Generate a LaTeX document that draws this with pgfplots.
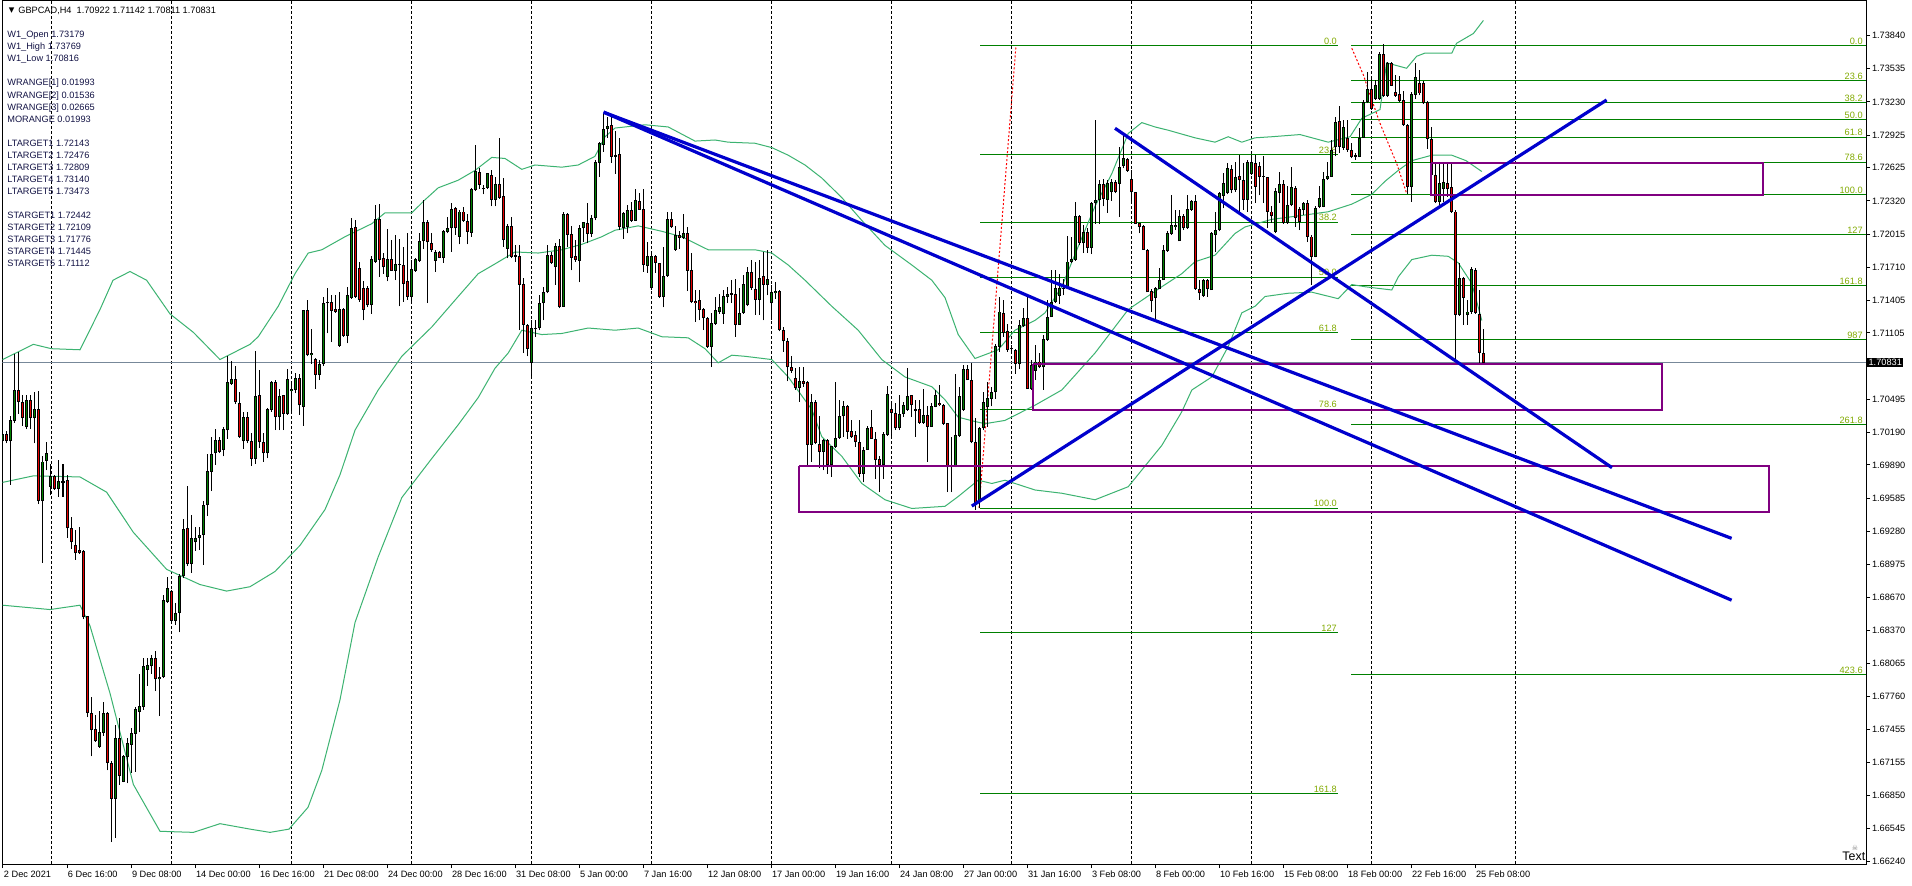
\documentclass[border=0pt]{standalone}
\usepackage{pgfplots}
\pgfplotsset{compat=1.18}
\usepackage{pgfplotstable}
\usepackage{fontspec}
\setmainfont{Liberation Sans}
\newfontfamily\dejavu{DejaVu Sans}
\definecolor{cgreen}{RGB}{0,128,0}
\definecolor{cred}{RGB}{230,0,0}
\definecolor{bband}{RGB}{60,179,113}
\definecolor{fibg}{RGB}{0,128,0}
\definecolor{fibt}{RGB}{130,170,0}
\definecolor{tline}{RGB}{0,0,205}
\definecolor{rectp}{RGB}{128,0,128}
\definecolor{bidg}{RGB}{119,136,153}
\definecolor{infot}{RGB}{20,20,70}
\newcommand\mt{\fontsize{4.6pt}{5.5pt}\selectfont}
\pgfplotstableread{
i O H L C
0 1.7011 1.7028 1.6994 1.7017
1 1.7017 1.7020 1.7009 1.7011
2 1.7011 1.7034 1.6971 1.7030
3 1.7030 1.7091 1.7028 1.7058
4 1.7058 1.7093 1.7036 1.7047
5 1.7047 1.7053 1.7025 1.7032
6 1.7024 1.7053 1.7022 1.7049
7 1.7049 1.7053 1.7022 1.7032
8 1.7032 1.7056 1.7009 1.7040
9 1.7040 1.7057 1.6953 1.6956
10 1.6956 1.6997 1.6899 1.6992
11 1.6993 1.7010 1.6984 1.7000
12 1.6969 1.6990 1.6961 1.6979
13 1.6979 1.6980 1.6966 1.6967
14 1.6967 1.6994 1.6960 1.6974
15 1.6974 1.6990 1.6960 1.6973
16 1.6975 1.6980 1.6922 1.6931
17 1.6931 1.6941 1.6912 1.6918
18 1.6915 1.6929 1.6902 1.6908
19 1.6911 1.6932 1.6907 1.6908
20 1.6910 1.6911 1.6847 1.6849
21 1.6850 1.6850 1.6757 1.6761
22 1.6761 1.6776 1.6721 1.6745
23 1.6746 1.6759 1.6734 1.6735
24 1.6730 1.6763 1.6729 1.6743
25 1.6743 1.6771 1.6740 1.6761
26 1.6761 1.6762 1.6708 1.6715
27 1.6715 1.6717 1.6642 1.6682
28 1.6682 1.6750 1.6646 1.6738
29 1.6738 1.6756 1.6695 1.6703
30 1.6698 1.6722 1.6697 1.6721
31 1.6721 1.6738 1.6696 1.6733
32 1.6732 1.6747 1.6706 1.6742
33 1.6742 1.6766 1.6707 1.6764
34 1.6762 1.6797 1.6743 1.6767
35 1.6767 1.6811 1.6764 1.6804
36 1.6801 1.6811 1.6786 1.6805
37 1.6804 1.6814 1.6797 1.6811
38 1.6811 1.6818 1.6781 1.6792
39 1.6792 1.6803 1.6758 1.6794
40 1.6794 1.6869 1.6793 1.6865
41 1.6863 1.6886 1.6862 1.6876
42 1.6873 1.6874 1.6845 1.6846
43 1.6846 1.6862 1.6842 1.6853
44 1.6853 1.6889 1.6835 1.6887
45 1.6887 1.6939 1.6885 1.6930
46 1.6931 1.6970 1.6896 1.6898
47 1.6898 1.6943 1.6890 1.6922
48 1.6918 1.6932 1.6910 1.6922
49 1.6922 1.6932 1.6911 1.6924
50 1.6925 1.6956 1.6897 1.6952
51 1.6952 1.6999 1.6942 1.6983
52 1.6983 1.7015 1.6965 1.6999
53 1.7000 1.7022 1.6989 1.7012
54 1.7012 1.7015 1.7000 1.7001
55 1.7003 1.7024 1.6997 1.7022
56 1.7021 1.7089 1.7013 1.7065
57 1.7064 1.7085 1.7063 1.7068
58 1.7068 1.7080 1.7045 1.7047
59 1.7046 1.7056 1.7014 1.7015
60 1.7011 1.7038 1.7004 1.7033
61 1.7033 1.7038 1.7009 1.7011
62 1.7011 1.7018 1.6988 1.6995
63 1.6995 1.7094 1.6990 1.7052
64 1.7053 1.7076 1.7005 1.7010
65 1.7010 1.7018 1.6992 1.7000
66 1.7000 1.7041 1.6995 1.7040
67 1.7040 1.7066 1.7038 1.7065
68 1.7065 1.7067 1.7021 1.7033
69 1.7033 1.7059 1.7021 1.7052
70 1.7053 1.7053 1.7021 1.7036
71 1.7036 1.7077 1.7035 1.7068
72 1.7057 1.7065 1.7038 1.7059
73 1.7058 1.7074 1.7055 1.7069
74 1.7069 1.7073 1.7035 1.7044
75 1.7043 1.7132 1.7025 1.7131
76 1.7131 1.7141 1.7089 1.7090
77 1.7090 1.7114 1.7082 1.7092
78 1.7086 1.7087 1.7059 1.7072
79 1.7072 1.7086 1.7067 1.7082
80 1.7082 1.7144 1.7080 1.7138
81 1.7138 1.7152 1.7110 1.7139
82 1.7139 1.7145 1.7102 1.7131
83 1.7132 1.7145 1.7129 1.7130
84 1.7099 1.7148 1.7098 1.7132
85 1.7132 1.7133 1.7107 1.7108
86 1.7108 1.7153 1.7101 1.7145
87 1.7143 1.7216 1.7142 1.7207
88 1.7208 1.7214 1.7143 1.7144
89 1.7170 1.7176 1.7139 1.7141
90 1.7152 1.7158 1.7122 1.7132
91 1.7152 1.7154 1.7134 1.7136
92 1.7136 1.7181 1.7128 1.7178
93 1.7176 1.7228 1.7175 1.7215
94 1.7215 1.7229 1.7162 1.7178
95 1.7179 1.7184 1.7165 1.7171
96 1.7162 1.7206 1.7158 1.7178
97 1.7178 1.7196 1.7168 1.7168
98 1.7168 1.7201 1.7159 1.7174
99 1.7174 1.7197 1.7135 1.7173
100 1.7173 1.7190 1.7139 1.7156
101 1.7158 1.7202 1.7141 1.7144
102 1.7144 1.7178 1.7137 1.7169
103 1.7168 1.7179 1.7167 1.7178
104 1.7177 1.7202 1.7176 1.7195
105 1.7195 1.7233 1.7188 1.7212
106 1.7212 1.7214 1.7138 1.7194
107 1.7193 1.7202 1.7185 1.7187
108 1.7177 1.7187 1.7167 1.7185
109 1.7185 1.7186 1.7179 1.7180
110 1.7180 1.7205 1.7175 1.7204
111 1.7204 1.7217 1.7202 1.7207
112 1.7207 1.7230 1.7185 1.7224
113 1.7225 1.7226 1.7201 1.7207
114 1.7199 1.7224 1.7192 1.7222
115 1.7222 1.7226 1.7213 1.7214
116 1.7213 1.7220 1.7192 1.7204
117 1.7203 1.7244 1.7199 1.7243
118 1.7242 1.7283 1.7241 1.7259
119 1.7258 1.7262 1.7243 1.7247
120 1.7244 1.7247 1.7238 1.7243
121 1.7244 1.7258 1.7243 1.7257
122 1.7256 1.7260 1.7227 1.7233
123 1.7233 1.7254 1.7227 1.7247
124 1.7247 1.7290 1.7234 1.7235
125 1.7236 1.7253 1.7190 1.7196
126 1.7188 1.7211 1.7179 1.7209
127 1.7209 1.7217 1.7179 1.7181
128 1.7181 1.7191 1.7176 1.7181
129 1.7181 1.7191 1.7113 1.7155
130 1.7155 1.7161 1.7092 1.7118
131 1.7118 1.7119 1.7089 1.7096
132 1.7083 1.7122 1.7071 1.7115
133 1.7114 1.7122 1.7107 1.7115
134 1.7115 1.7145 1.7113 1.7138
135 1.7138 1.7153 1.7122 1.7148
136 1.7148 1.7191 1.7147 1.7182
137 1.7182 1.7185 1.7174 1.7175
138 1.7171 1.7193 1.7155 1.7190
139 1.7190 1.7197 1.7133 1.7135
140 1.7135 1.7222 1.7135 1.7220
141 1.7220 1.7221 1.7190 1.7201
142 1.7201 1.7209 1.7168 1.7180
143 1.7181 1.7196 1.7176 1.7178
144 1.7177 1.7210 1.7157 1.7207
145 1.7207 1.7213 1.7194 1.7212
146 1.7211 1.7230 1.7193 1.7202
147 1.7202 1.7219 1.7199 1.7216
148 1.7216 1.7270 1.7214 1.7268
149 1.7267 1.7286 1.7254 1.7285
150 1.7284 1.7313 1.7277 1.7298
151 1.7298 1.7309 1.7290 1.7301
152 1.7302 1.7310 1.7267 1.7273
153 1.7273 1.7296 1.7257 1.7274
154 1.7275 1.7290 1.7205 1.7208
155 1.7207 1.7222 1.7197 1.7221
156 1.7208 1.7228 1.7202 1.7223
157 1.7223 1.7231 1.7213 1.7214
158 1.7214 1.7243 1.7214 1.7233
159 1.7232 1.7239 1.7224 1.7224
160 1.7224 1.7243 1.7167 1.7173
161 1.7172 1.7194 1.7166 1.7181
162 1.7152 1.7184 1.7150 1.7181
163 1.7181 1.7182 1.7166 1.7175
164 1.7175 1.7175 1.7143 1.7144
165 1.7144 1.7190 1.7134 1.7163
166 1.7163 1.7222 1.7162 1.7215
167 1.7215 1.7222 1.7207 1.7208
168 1.7187 1.7209 1.7186 1.7200
169 1.7200 1.7204 1.7188 1.7198
170 1.7198 1.7220 1.7197 1.7202
171 1.7202 1.7208 1.7149 1.7168
172 1.7168 1.7184 1.7138 1.7139
173 1.7140 1.7150 1.7121 1.7138
174 1.7141 1.7150 1.7122 1.7132
175 1.7132 1.7133 1.7113 1.7124
176 1.7124 1.7125 1.7097 1.7098
177 1.7098 1.7129 1.7079 1.7119
178 1.7119 1.7144 1.7118 1.7131
179 1.7130 1.7146 1.7128 1.7134
180 1.7128 1.7150 1.7119 1.7144
181 1.7144 1.7153 1.7138 1.7146
182 1.7146 1.7159 1.7138 1.7146
183 1.7146 1.7160 1.7107 1.7118
184 1.7118 1.7152 1.7118 1.7129
185 1.7129 1.7164 1.7128 1.7155
186 1.7136 1.7171 1.7135 1.7166
187 1.7166 1.7178 1.7150 1.7152
188 1.7151 1.7176 1.7127 1.7141
189 1.7141 1.7178 1.7127 1.7161
190 1.7163 1.7185 1.7122 1.7155
191 1.7155 1.7187 1.7145 1.7160
192 1.7138 1.7155 1.7122 1.7148
193 1.7147 1.7157 1.7142 1.7149
194 1.7149 1.7150 1.7112 1.7113
195 1.7113 1.7116 1.7093 1.7103
196 1.7103 1.7106 1.7066 1.7079
197 1.7079 1.7089 1.7074 1.7076
198 1.7069 1.7078 1.7058 1.7060
199 1.7060 1.7079 1.7047 1.7066
200 1.7066 1.7079 1.7061 1.7064
201 1.7065 1.7066 1.6988 1.7008
202 1.7008 1.7054 1.6992 1.7047
203 1.7047 1.7049 1.7008 1.7009
204 1.7008 1.7034 1.6986 1.7001
205 1.7001 1.7013 1.6984 1.7012
206 1.7012 1.7013 1.6981 1.6989
207 1.6989 1.7006 1.6978 1.7006
208 1.7006 1.7065 1.7005 1.7014
209 1.7014 1.7049 1.7013 1.7034
210 1.7034 1.7048 1.7015 1.7043
211 1.7043 1.7044 1.7013 1.7020
212 1.7020 1.7030 1.7014 1.7015
213 1.7016 1.7020 1.7006 1.7010
214 1.7010 1.7030 1.6978 1.6981
215 1.6981 1.7006 1.6973 1.7003
216 1.7003 1.7025 1.7003 1.7023
217 1.7024 1.7040 1.7013 1.7013
218 1.7013 1.7019 1.6976 1.6994
219 1.6994 1.6997 1.6964 1.6989
220 1.6989 1.7019 1.6976 1.7017
221 1.7017 1.7062 1.7016 1.7054
222 1.7040 1.7045 1.7015 1.7037
223 1.7037 1.7046 1.7021 1.7023
224 1.7023 1.7053 1.7021 1.7036
225 1.7036 1.7047 1.7033 1.7044
226 1.7040 1.7078 1.7039 1.7052
227 1.7053 1.7053 1.7033 1.7044
228 1.7040 1.7049 1.7015 1.7039
229 1.7040 1.7049 1.7027 1.7028
230 1.7028 1.7059 1.7027 1.7035
231 1.7035 1.7043 1.6992 1.7024
232 1.7024 1.7046 1.7024 1.7043
233 1.7043 1.7058 1.7042 1.7053
234 1.7046 1.7063 1.7043 1.7044
235 1.7044 1.7045 1.7026 1.7027
236 1.7027 1.7027 1.6964 1.6987
237 1.6988 1.7015 1.6964 1.6987
238 1.6988 1.7073 1.6987 1.7016
239 1.7016 1.7061 1.7015 1.7052
240 1.7040 1.7081 1.7039 1.7077
241 1.7077 1.7081 1.7067 1.7067
242 1.7067 1.7083 1.7009 1.7010
243 1.7010 1.7032 1.6948 1.6952
244 1.6955 1.7024 1.6949 1.7023
245 1.7023 1.7056 1.7021 1.7047
246 1.7043 1.7065 1.7024 1.7050
247 1.7050 1.7061 1.7043 1.7056
248 1.7056 1.7100 1.7050 1.7098
249 1.7098 1.7144 1.7093 1.7130
250 1.7129 1.7141 1.7107 1.7111
251 1.7112 1.7119 1.7093 1.7095
252 1.7096 1.7099 1.7092 1.7096
253 1.7095 1.7096 1.7073 1.7082
254 1.7082 1.7122 1.7077 1.7118
255 1.7117 1.7133 1.7116 1.7124
256 1.7124 1.7144 1.7059 1.7059
257 1.7059 1.7086 1.7058 1.7081
258 1.7076 1.7099 1.7067 1.7084
259 1.7084 1.7092 1.7078 1.7079
260 1.7079 1.7109 1.7058 1.7105
261 1.7104 1.7141 1.7103 1.7125
262 1.7125 1.7168 1.7125 1.7139
263 1.7139 1.7168 1.7138 1.7152
264 1.7145 1.7165 1.7137 1.7152
265 1.7151 1.7160 1.7145 1.7152
266 1.7152 1.7200 1.7151 1.7176
267 1.7176 1.7199 1.7175 1.7178
268 1.7178 1.7231 1.7177 1.7218
269 1.7218 1.7219 1.7191 1.7193
270 1.7193 1.7210 1.7184 1.7203
271 1.7203 1.7207 1.7184 1.7189
272 1.7189 1.7231 1.7183 1.7230
273 1.7230 1.7306 1.7211 1.7233
274 1.7233 1.7251 1.7211 1.7247
275 1.7247 1.7252 1.7227 1.7234
276 1.7233 1.7251 1.7221 1.7248
277 1.7240 1.7252 1.7232 1.7249
278 1.7249 1.7251 1.7239 1.7240
279 1.7248 1.7282 1.7217 1.7263
280 1.7264 1.7294 1.7262 1.7271
281 1.7270 1.7271 1.7259 1.7260
282 1.7252 1.7260 1.7231 1.7240
283 1.7240 1.7240 1.7211 1.7211
284 1.7211 1.7212 1.7202 1.7208
285 1.7209 1.7210 1.7187 1.7187
286 1.7187 1.7188 1.7148 1.7148
287 1.7149 1.7151 1.7130 1.7140
288 1.7143 1.7153 1.7121 1.7152
289 1.7151 1.7170 1.7151 1.7159
290 1.7159 1.7191 1.7159 1.7187
291 1.7186 1.7204 1.7185 1.7202
292 1.7202 1.7237 1.7201 1.7210
293 1.7208 1.7224 1.7205 1.7210
294 1.7195 1.7224 1.7195 1.7218
295 1.7218 1.7220 1.7205 1.7207
296 1.7207 1.7237 1.7206 1.7224
297 1.7224 1.7233 1.7223 1.7232
298 1.7232 1.7237 1.7150 1.7151
299 1.7151 1.7159 1.7141 1.7147
300 1.7145 1.7160 1.7144 1.7159
301 1.7159 1.7160 1.7144 1.7151
302 1.7150 1.7203 1.7150 1.7202
303 1.7201 1.7222 1.7185 1.7205
304 1.7205 1.7240 1.7204 1.7239
305 1.7237 1.7258 1.7225 1.7248
306 1.7239 1.7267 1.7238 1.7262
307 1.7261 1.7265 1.7239 1.7242
308 1.7242 1.7268 1.7240 1.7254
309 1.7255 1.7274 1.7222 1.7251
310 1.7251 1.7267 1.7224 1.7233
311 1.7233 1.7270 1.7222 1.7268
312 1.7257 1.7274 1.7256 1.7268
313 1.7267 1.7274 1.7230 1.7245
314 1.7264 1.7268 1.7237 1.7254
315 1.7255 1.7273 1.7230 1.7254
316 1.7254 1.7254 1.7207 1.7222
317 1.7222 1.7227 1.7212 1.7218
318 1.7204 1.7244 1.7202 1.7241
319 1.7239 1.7259 1.7230 1.7247
320 1.7247 1.7251 1.7211 1.7212
321 1.7212 1.7246 1.7211 1.7228
322 1.7228 1.7263 1.7227 1.7245
323 1.7244 1.7246 1.7208 1.7216
324 1.7224 1.7226 1.7205 1.7213
325 1.7224 1.7231 1.7219 1.7230
326 1.7230 1.7233 1.7194 1.7199
327 1.7199 1.7201 1.7155 1.7181
328 1.7181 1.7227 1.7180 1.7225
329 1.7227 1.7246 1.7225 1.7234
330 1.7227 1.7259 1.7226 1.7252
331 1.7252 1.7268 1.7251 1.7255
332 1.7254 1.7288 1.7254 1.7279
333 1.7282 1.7309 1.7273 1.7304
334 1.7305 1.7319 1.7276 1.7282
335 1.7281 1.7306 1.7279 1.7300
336 1.7290 1.7306 1.7277 1.7279
337 1.7279 1.7285 1.7271 1.7273
338 1.7273 1.7276 1.7270 1.7274
339 1.7273 1.7299 1.7272 1.7290
340 1.7290 1.7325 1.7290 1.7323
341 1.7323 1.7351 1.7322 1.7335
342 1.7335 1.7345 1.7316 1.7317
343 1.7326 1.7343 1.7325 1.7338
344 1.7326 1.7369 1.7325 1.7367
345 1.7367 1.7376 1.7328 1.7329
346 1.7329 1.7360 1.7328 1.7359
347 1.7359 1.7360 1.7338 1.7338
348 1.7332 1.7348 1.7328 1.7329
349 1.7330 1.7347 1.7323 1.7324
350 1.7325 1.7333 1.7301 1.7302
351 1.7302 1.7303 1.7238 1.7245
352 1.7245 1.7332 1.7231 1.7330
353 1.7330 1.7359 1.7326 1.7346
354 1.7340 1.7352 1.7329 1.7331
355 1.7340 1.7342 1.7321 1.7322
356 1.7323 1.7324 1.7280 1.7289
357 1.7289 1.7300 1.7254 1.7256
358 1.7256 1.7268 1.7230 1.7231
359 1.7231 1.7267 1.7228 1.7248
360 1.7243 1.7267 1.7231 1.7249
361 1.7248 1.7267 1.7236 1.7243
362 1.7245 1.7267 1.7221 1.7222
363 1.7222 1.7224 1.7084 1.7127
364 1.7127 1.7175 1.7126 1.7161
365 1.7161 1.7162 1.7118 1.7143
366 1.7127 1.7141 1.7118 1.7130
367 1.7130 1.7171 1.7128 1.7169
368 1.7168 1.7170 1.7128 1.7129
369 1.7128 1.7150 1.7083 1.7092
370 1.70922 1.71142 1.70811 1.70831
}\candles
\begin{document}
\begin{tikzpicture}[x=1pt,y=1pt]
\path[use as bounding box] (0,0) rectangle (956,442.5);
\fill[white] (0,0) rectangle (956,442.5);
\begin{axis}[at={(1.25pt,10.5pt)}, anchor=south west, scale only axis,
 width=931.75pt, height=431.5pt,
 xmin=-0.125, xmax=465.75, ymin=1.66219, ymax=1.74159,
 axis line style={black, line width=0.5pt},
 xtick={0,16,...,368},
 xticklabels={2 Dec 2021,6 Dec 16:00,9 Dec 08:00,14 Dec 00:00,16 Dec 16:00,21 Dec 08:00,24 Dec 00:00,28 Dec 16:00,31 Dec 08:00,5 Jan 00:00,7 Jan 16:00,12 Jan 08:00,17 Jan 00:00,19 Jan 16:00,24 Jan 08:00,27 Jan 00:00,31 Jan 16:00,3 Feb 08:00,8 Feb 00:00,10 Feb 16:00,15 Feb 08:00,18 Feb 00:00,22 Feb 16:00,25 Feb 08:00},
 xtick pos=bottom, ytick pos=right, tick align=outside, major tick length=2pt,
 tick style={black, line width=0.5pt},
 xticklabel style={anchor=north west, inner sep=0pt, xshift=0.3pt, yshift=-1.2pt, font=\mt},
 ytick={1.73840,1.73535,1.73230,1.72925,1.72625,1.72320,1.72015,1.71710,1.71405,1.71105,1.70495,1.70190,1.69890,1.69585,1.69280,1.68975,1.68670,1.68370,1.68065,1.67760,1.67455,1.67155,1.66850,1.66545,1.66240},
 yticklabels={1.73840,1.73535,1.73230,1.72925,1.72625,1.72320,1.72015,1.71710,1.71405,1.71105,1.70495,1.70190,1.69890,1.69585,1.69280,1.68975,1.68670,1.68370,1.68065,1.67760,1.67455,1.67155,1.66850,1.66545,1.66240},
 yticklabel style={anchor=west, inner sep=0pt, xshift=0.8pt, font=\mt},
 extra x ticks={12.125,42.125,72.125,102.125,132.125,162.125,192.125,222.125,252.125,282.125,312.125,342.125,378.125},
 extra x tick labels={},
 extra x tick style={grid=major, major tick length=0pt, major grid style={black, line width=0.5pt, dash pattern=on 1.5pt off 1pt}},
]
% bid line
\addplot[bidg, line width=0.5pt, forget plot] coordinates {(-0.125,1.70831) (465.75,1.70831)};
% Fibonacci A
\addplot[fibg, line width=0.5pt, forget plot] coordinates {(244.25,1.73748) (333.75,1.73748)};
\addplot[fibg, line width=0.5pt, forget plot] coordinates {(244.25,1.72744) (333.75,1.72744)};
\addplot[fibg, line width=0.5pt, forget plot] coordinates {(244.25,1.72123) (333.75,1.72123)};
\addplot[fibg, line width=0.5pt, forget plot] coordinates {(244.25,1.71617) (333.75,1.71617)};
\addplot[fibg, line width=0.5pt, forget plot] coordinates {(244.25,1.71110) (333.75,1.71110)};
\addplot[fibg, line width=0.5pt, forget plot] coordinates {(244.25,1.70404) (333.75,1.70404)};
\addplot[fibg, line width=0.5pt, forget plot] coordinates {(244.25,1.69494) (333.75,1.69494)};
\addplot[fibg, line width=0.5pt, forget plot] coordinates {(244.25,1.68346) (333.75,1.68346)};
\addplot[fibg, line width=0.5pt, forget plot] coordinates {(244.25,1.66865) (333.75,1.66865)};
\addplot[red, line width=0.5pt, dash pattern=on 1pt off 1pt, forget plot] coordinates {(244,1.69494) (253.25,1.73748)};
\begin{scope}[every node/.style={anchor=south east, inner sep=0.4pt, text=fibt, font=\mt}]
\node at (axis cs:333.75,1.73748) {0.0};
\node at (axis cs:333.75,1.72744) {23.6};
\node at (axis cs:333.75,1.72123) {38.2};
\node at (axis cs:333.75,1.71617) {50.0};
\node at (axis cs:333.75,1.71110) {61.8};
\node at (axis cs:333.75,1.70404) {78.6};
\node at (axis cs:333.75,1.69494) {100.0};
\node at (axis cs:333.75,1.68346) {127};
\node at (axis cs:333.75,1.66865) {161.8};
\end{scope}
% Fibonacci B
\addplot[fibg, line width=0.5pt, forget plot] coordinates {(337,1.73748) (465.75,1.73748)};
\addplot[fibg, line width=0.5pt, forget plot] coordinates {(337,1.73423) (465.75,1.73423)};
\addplot[fibg, line width=0.5pt, forget plot] coordinates {(337,1.73223) (465.75,1.73223)};
\addplot[fibg, line width=0.5pt, forget plot] coordinates {(337,1.73064) (465.75,1.73064)};
\addplot[fibg, line width=0.5pt, forget plot] coordinates {(337,1.72905) (465.75,1.72905)};
\addplot[fibg, line width=0.5pt, forget plot] coordinates {(337,1.72675) (465.75,1.72675)};
\addplot[fibg, line width=0.5pt, forget plot] coordinates {(337,1.72380) (465.75,1.72380)};
\addplot[fibg, line width=0.5pt, forget plot] coordinates {(337,1.72012) (465.75,1.72012)};
\addplot[fibg, line width=0.5pt, forget plot] coordinates {(337,1.71539) (465.75,1.71539)};
\addplot[fibg, line width=0.5pt, forget plot] coordinates {(337,1.71040) (465.75,1.71040)};
\addplot[fibg, line width=0.5pt, forget plot] coordinates {(337,1.70258) (465.75,1.70258)};
\addplot[fibg, line width=0.5pt, forget plot] coordinates {(337,1.67964) (465.75,1.67964)};
\addplot[red, line width=0.5pt, dash pattern=on 1pt off 1pt, forget plot] coordinates {(337.2,1.73724) (340.1,1.73478) (342.2,1.73248) (344.25,1.73034) (346.3,1.72850) (348.4,1.72665) (350.9,1.72389)};
\begin{scope}[every node/.style={anchor=south east, inner sep=0.4pt, text=fibt, font=\mt}]
\node at (axis cs:465.2,1.73748) {0.0};
\node at (axis cs:465.2,1.73423) {23.6};
\node at (axis cs:465.2,1.73223) {38.2};
\node at (axis cs:465.2,1.73064) {50.0};
\node at (axis cs:465.2,1.72905) {61.8};
\node at (axis cs:465.2,1.72675) {78.6};
\node at (axis cs:465.2,1.72380) {100.0};
\node at (axis cs:465.2,1.72012) {127};
\node at (axis cs:465.2,1.71539) {161.8};
\node at (axis cs:465.2,1.71040) {987};
\node at (axis cs:465.2,1.70258) {261.8};
\node at (axis cs:465.2,1.67964) {423.6};
\end{scope}
% Bollinger bands
\addplot[bband, line width=0.5pt, forget plot] coordinates {(-0.1,1.7086) (7.6,1.7100) (12.1,1.7096) (19.25,1.7095) (24.25,1.7132) (27.5,1.7159) (31.75,1.7167) (35.9,1.7159) (41.75,1.7128) (47.6,1.7111) (54.25,1.7086) (61.75,1.7100) (63.8,1.7107) (68.8,1.7135) (73,1.7165) (76.3,1.7184) (79.7,1.7187) (85.5,1.7199) (92.2,1.7211) (95.5,1.7221) (102.2,1.7221) (105.5,1.7233) (108.8,1.7244) (113.8,1.7251) (118,1.7260) (122.2,1.7272) (125.5,1.7271) (129.7,1.7261) (133,1.7265) (139.7,1.7263) (143.8,1.7265) (148,1.7273) (150.5,1.7291) (153,1.7299) (160.5,1.7302) (166.3,1.7300) (173,1.7287) (178,1.7288) (181.3,1.7286) (188,1.7285) (192.2,1.7281) (196.3,1.7274) (200.5,1.7265) (204.7,1.7253) (209.7,1.7235) (214.7,1.7214) (220.5,1.7191) (227.2,1.7173) (232.2,1.7159) (235.5,1.7143) (238.8,1.7109) (243,1.7087) (248.8,1.7095) (253,1.7113) (258,1.7122) (260.5,1.7129) (264.7,1.7153) (268.8,1.7190) (273,1.7227) (277.2,1.7257) (281.3,1.7294) (284.7,1.7304) (288,1.7300) (291.3,1.7297) (298,1.7290) (303,1.7286) (306.3,1.7291) (309.7,1.7286) (313,1.7290) (317.2,1.7291) (324.25,1.7293) (331.3,1.7286) (336.75,1.7291) (339.7,1.7308) (344.25,1.7316) (345.9,1.7359) (350.9,1.7354) (353.4,1.7365) (355.5,1.7368) (362.2,1.7368) (363.4,1.7377) (367.6,1.7386) (370.1,1.7398)};
\addplot[bband, line width=0.5pt, forget plot] coordinates {(-0.1,1.6973) (7.6,1.6979) (19.25,1.6978) (25.9,1.6964) (32.6,1.6927) (40.9,1.6893) (49.25,1.6879) (55.9,1.6873) (61.75,1.6877) (68,1.6891) (74.25,1.6915) (80.5,1.6948) (84.25,1.6980) (88,1.7021) (93.8,1.7058) (99.7,1.7089) (107.2,1.7116) (113.8,1.7144) (118.8,1.7165) (123,1.7174) (128,1.7185) (133.8,1.7184) (139.7,1.7187) (144.7,1.7192) (149.7,1.7199) (153,1.7205) (158.8,1.7209) (164.7,1.7204) (169.7,1.7199) (176.3,1.7187) (181.3,1.7187) (188,1.7187) (192.2,1.7184) (196.3,1.7173) (200.5,1.7159) (207.2,1.7135) (213.8,1.7113) (219.7,1.7086) (225.5,1.7070) (232.2,1.7061) (235.5,1.7049) (238.8,1.7033) (243,1.7029) (245.5,1.7027) (250.5,1.7030) (258,1.7044) (264.7,1.7058) (273,1.7092) (281.3,1.7132) (289.7,1.7153) (294.7,1.7165) (298,1.7176) (303,1.7182) (308,1.7202) (310.5,1.7208) (317.2,1.7215) (325.5,1.7219) (331.3,1.7222) (337.2,1.7229) (342.2,1.7238) (345.5,1.7250) (348.8,1.7260) (352.2,1.7269) (357.2,1.7274) (362.2,1.7274) (365.75,1.7269) (369.7,1.7259)};
\addplot[bband, line width=0.5pt, forget plot] coordinates {(-0.1,1.6860) (11.75,1.6856) (19.25,1.6860) (21.75,1.6841) (26.75,1.6779) (32.6,1.6695) (39.25,1.6652) (47.6,1.6651) (54.25,1.6659) (61.75,1.6654) (66.75,1.6651) (71.5,1.6654) (76.25,1.6674) (79.7,1.6708) (84.25,1.6773) (88,1.6844) (93.75,1.6904) (99.7,1.6959) (107.2,1.6995) (113.8,1.7026) (118.8,1.7051) (123,1.7078) (126.3,1.7092) (129.7,1.7113) (134.7,1.7109) (139.7,1.7110) (146.3,1.7115) (153,1.7113) (158.8,1.7115) (164.7,1.7107) (171.3,1.7106) (175.5,1.7096) (178.8,1.7083) (182.2,1.7090) (185.5,1.7089) (192.2,1.7086) (196.3,1.7070) (202.2,1.7040) (204.7,1.7015) (209.7,1.6997) (214.7,1.6972) (220.5,1.6957) (227.2,1.6949) (235.5,1.6951) (238.8,1.6960) (243.8,1.6975) (247.2,1.6972) (250.5,1.6975) (258,1.6966) (264.7,1.6963) (273,1.6957) (281.3,1.6969) (289.7,1.7007) (294.7,1.7038) (297.2,1.7058) (302.2,1.7070) (306.3,1.7098) (309.7,1.7129) (313,1.7135) (315.5,1.7144) (321.3,1.7147) (327.2,1.7148) (333.8,1.7142) (337.2,1.7155) (340.5,1.7153) (347.2,1.7150) (348.8,1.7162) (352.2,1.7178) (357.2,1.7182) (361.3,1.7181) (363.8,1.7175) (367.2,1.7156) (369.7,1.7122)};
% candles: wicks
\addplot[draw=none, mark=none, forget plot, error bars/.cd, y dir=plus, y explicit, error mark=none,
 error bar style={draw=black, line width=0.5pt, solid}]
 table[x=i, y=L, y error plus expr=\thisrow{H}-\thisrow{L}] {\candles};
% candles: body outline
\addplot[draw=none, mark=none, forget plot, error bars/.cd, y dir=plus, y explicit, error mark=none,
 error bar style={draw=black, line width=1.5pt, solid}]
 table[x=i, y expr={min(\thisrow{O},\thisrow{C})-0.00002}, y error plus expr={max(abs(\thisrow{C}-\thisrow{O}),0.00006)+0.00004}] {\candles};
% candles: bull fill
\addplot[draw=none, mark=none, forget plot, error bars/.cd, y dir=plus, y explicit, error mark=none,
 error bar style={draw=cgreen, line width=0.5pt, solid}]
 table[x=i, y expr={\thisrow{O}+0.00007}, y error plus expr={max(\thisrow{C}-\thisrow{O}-0.00014,0)}] {\candles};
% candles: bear fill
\addplot[draw=none, mark=none, forget plot, error bars/.cd, y dir=plus, y explicit, error mark=none,
 error bar style={draw=cred, line width=0.5pt, solid}]
 table[x=i, y expr={\thisrow{C}+0.00007}, y error plus expr={max(\thisrow{O}-\thisrow{C}-0.00014,0)}] {\candles};
% rectangles
\addplot[rectp, line width=1pt, line join=miter, forget plot] coordinates {(356.9,1.72671) (440.1,1.72671) (440.1,1.72374) (356.9,1.72374) (356.9,1.72671)};
\addplot[rectp, line width=1pt, line join=miter, forget plot] coordinates {(257.5,1.70816) (414.75,1.70816) (414.75,1.70396) (257.5,1.70396) (257.5,1.70816)};
\addplot[rectp, line width=1pt, line join=miter, forget plot] coordinates {(199,1.69880) (441.6,1.69880) (441.6,1.69460) (199,1.69460) (199,1.69880)};
% trend lines
\addplot[tline, line width=1.6pt, forget plot] coordinates {(150.15,1.73136) (432.15,1.69215)};
\addplot[tline, line width=1.6pt, forget plot] coordinates {(150.15,1.73136) (432.15,1.68646)};
\addplot[tline, line width=1.6pt, forget plot] coordinates {(242.2,1.69512) (400.9,1.73248)};
\addplot[tline, line width=1.6pt, forget plot] coordinates {(278,1.72988) (402.25,1.69865)};
\coordinate (bid) at (axis cs:465.75,1.70831);
\end{axis}
\node[anchor=west, fill=black, text=white, inner sep=0.6pt, font=\mt] at ([xshift=0.5pt]bid) {1.70831};
% header and indicator text
\node[anchor=west, inner sep=0pt, font=\fontsize{3.6pt}{4pt}\dejavu] at (4.3,437) {▼};
\node[anchor=west, inner sep=0pt, font=\mt] at (9,437) {GBPCAD,H4\ \ 1.70922 1.71142 1.70811 1.70831};
\begin{scope}[every node/.style={anchor=west, inner sep=0pt, font=\mt, text=infot}]
\node at (3.5,425) {W1\_Open 1.73179};
\node at (3.5,418.85) {W1\_High 1.73769};
\node at (3.5,412.65) {W1\_Low 1.70816};
\node at (3.5,400.85) {WRANGE[1] 0.01993};
\node at (3.5,394.65) {WRANGE[2] 0.01536};
\node at (3.5,388.65) {WRANGE[3] 0.02665};
\node at (3.5,382.65) {MORANGE 0.01993};
\node at (3.5,370.65) {LTARGET1 1.72143};
\node at (3.5,364.65) {LTARGET2 1.72476};
\node at (3.5,358.65) {LTARGET3 1.72809};
\node at (3.5,352.65) {LTARGET4 1.73140};
\node at (3.5,346.65) {LTARGET5 1.73473};
\node at (3.5,334.85) {STARGET1 1.72442};
\node at (3.5,328.65) {STARGET2 1.72109};
\node at (3.5,322.65) {STARGET3 1.71776};
\node at (3.5,316.65) {STARGET4 1.71445};
\node at (3.5,310.65) {STARGET5 1.71112};
\end{scope}
\node[anchor=base east, inner sep=0pt, font=\fontsize{6.2pt}{7pt}\selectfont] at (932.8,12.2) {Text};
\node[inner sep=0pt, text=gray, font=\fontsize{3.5pt}{4pt}\dejavu] at (927.5,18.6) {☠};
\end{tikzpicture}
\end{document}
